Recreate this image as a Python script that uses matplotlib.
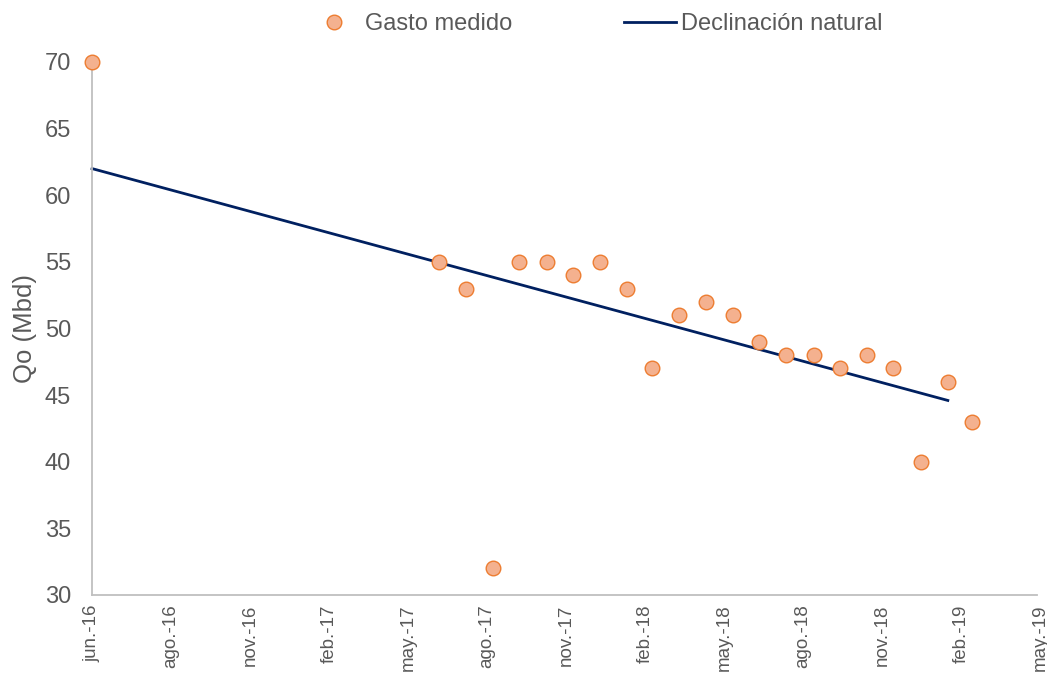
import matplotlib
matplotlib.use("Agg")
import matplotlib.pyplot as plt
import matplotlib.dates as mdates
import datetime as dt

plt.rcParams['font.family'] = ['Liberation Sans', 'DejaVu Sans']

# Data
measured_dates = ["2016-06-01",
                  "2017-07-01", "2017-08-01", "2017-09-01", "2017-10-01", "2017-11-01",
                  "2017-12-01", "2018-01-01", "2018-02-01", "2018-03-01", "2018-04-01",
                  "2018-05-01", "2018-06-01", "2018-07-01", "2018-08-01", "2018-09-01",
                  "2018-10-01", "2018-11-01", "2018-12-01", "2019-01-01", "2019-02-01",
                  "2019-03-01"]
measured_values = [70,
                   55, 53, 32, 55, 55, 54, 55, 53, 47, 51,
                   52, 51, 49, 48, 48, 47, 48, 47, 40, 46, 43]
decline_dates = ["2016-06-01", "2019-02-01"]
decline_values = [62, 44.6]
month_abbr = ["ene.", "feb.", "mar.", "abr.", "may.", "jun.",
              "jul.", "ago.", "sep.", "oct.", "nov.", "dic."]

md = [dt.datetime.fromisoformat(d) for d in measured_dates]
dd = [dt.datetime.fromisoformat(d) for d in decline_dates]

fig = plt.figure(figsize=(10.47, 6.73), dpi=100)
ax = fig.add_axes([0.0879, 0.1159, 0.9054, 0.7920])

gray = "#595959"
ax.plot(md, measured_values, linestyle="none", marker="o", markersize=10.5,
        markerfacecolor="#F4B18F", markeredgecolor="#ED7D31", markeredgewidth=1.0,
        label="Gasto medido", zorder=3, clip_on=False)
ax.plot(dd, decline_values, color="#002060", linewidth=2.0,
        label="Declinación natural", zorder=2, clip_on=False)

start = dt.datetime(2016, 6, 1)
ticks = [start + dt.timedelta(days=90 * k) for k in range(13)]
ax.set_xlim(mdates.date2num(start), mdates.date2num(ticks[-1]))
ax.set_xticks([mdates.date2num(t) for t in ticks])
ax.set_xticklabels([f"{month_abbr[t.month - 1]}-{t.year % 100:02d}" for t in ticks],
                   rotation=90, fontsize=13.5, color=gray)

ax.set_ylim(30, 70)
ax.set_yticks(range(30, 71, 5))
ax.tick_params(axis="y", labelsize=17, colors=gray, length=0, pad=15)
ax.tick_params(axis="x", length=0, pad=7)
ax.set_ylabel("Qo (Mbd)", fontsize=18.5, color=gray)
ax.yaxis.set_label_coords(-0.0707, 0.5)
ax.yaxis.label.set_va("center")

for s in ["top", "right"]:
    ax.spines[s].set_visible(False)
for s in ["left", "bottom"]:
    ax.spines[s].set_color("#BFBFBF")
    ax.spines[s].set_linewidth(1.3)
ax.spines["bottom"].set_bounds(mdates.date2num(start), mdates.date2num(ticks[-1]) - 3)

leg = fig.legend(loc="center left", bbox_to_anchor=(0.2827, 0.9643), ncol=2, frameon=False,
                 fontsize=17, handlelength=2.2, columnspacing=4.75, handletextpad=0.22,
                 borderpad=0)
for t in leg.get_texts():
    t.set_color(gray)

fig.savefig("out.png", dpi=100)
